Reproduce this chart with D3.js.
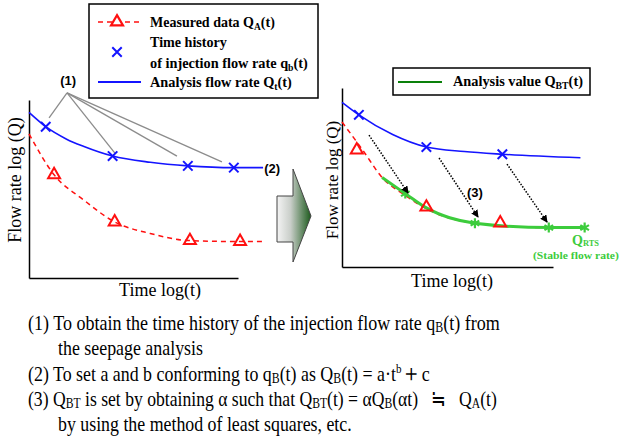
<!DOCTYPE html>
<html>
<head>
<meta charset="utf-8">
<script src="https://cdn.jsdelivr.net/npm/d3@7"></script>
<style>
  html, body { margin: 0; padding: 0; background: #fff; }
  svg { display: block; }
  .serif { font-family: "Liberation Serif", "Times New Roman", serif; white-space: pre; }
  .sans { font-family: "Liberation Sans", Arial, sans-serif; }
</style>
</head>
<body>
<svg id="fig" width="620" height="445"></svg>
<script>
// ---- Left panel: seepage-analysis history vs. measurements (log-log, arbitrary units 0..100) ----
const leftBlueX   = [0, 8, 18, 26, 40, 58, 76, 98, 112];
const leftBlueY   = [93, 85, 78, 74, 68.5, 65, 63, 62, 62];
const leftXMarkX  = [8, 40, 76, 98];
const leftXMarkY  = [85, 68.5, 63, 62];
const leftRedX    = [0, 12, 26, 41, 58, 77, 101, 112];
const leftRedY    = [81, 58, 44, 31.5, 25, 21, 20.5, 20.5];
const leftTriX    = [12, 41, 77, 101];
const leftTriY    = [58, 31.5, 21, 20.5];
const calloutFrom = [18.2, 104];
const calloutToX  = [9.6, 41.1, 70.8, 92.3];
const calloutToY  = [90, 70.2, 68.5, 65.2];

// ---- Right panel: fitted curve Q_BT(t) ----
const rightBlueX  = [0, 8, 24, 40, 58, 76, 113];
const rightBlueY  = [92, 85, 74, 67, 64.5, 63, 61];
const rightXMarkX = [8, 40, 76];
const rightXMarkY = [85, 67, 63];
const rightRedX   = [0, 10, 19, 30, 40, 63, 98, 113];
const rightRedY   = [81, 65, 50, 40, 32.5, 24.5, 22, 22];
const rightTriX   = [7, 40, 75];
const rightTriY   = [65.4, 33.5, 24.6];
const greenX      = [19, 30, 40, 51, 63, 98, 115];
const greenY      = [50, 41, 33, 27.5, 24.5, 22, 22];
const starX       = [30, 63, 98, 115];
const starY       = [41, 24.5, 22, 22];
const shiftFromX  = [12.8, 46, 78.2];
const shiftFromY  = [73.7, 60.9, 57.5];
const shiftToX    = [31.3, 64.5, 97.2];
const shiftToY    = [41.3, 27.9, 25.1];

// ---- Text ----
const axisTitleX = "Time log(t)";
const axisTitleY = "Flow rate log (Q)";
const notes = [
  { x: 28, y: 330, w: 472, parts: [["(1) To obtain the time history of the injection flow rate q"], ["B", "sub"], ["(t) from"]] },
  { x: 58, y: 355, w: 145, parts: [["the seepage analysis"]] },
  { x: 28, y: 381, w: 402, parts: [["(2) To set a and b conforming to q"], ["B", "sub"], ["(t) as Q"], ["B", "sub"], ["(t) = a·t"], ["b", "sup"], ["＋", "big"], ["c"]] },
  { x: 28, y: 406, w: 470, parts: [["(3) Q"], ["BT", "sub"], [" is set by obtaining α such that Q"], ["BT", "sub"], ["(t) = αQ"], ["B", "sub"], ["(αt)   ≒   Q"], ["A", "sub"], ["(t)"]] },
  { x: 58, y: 431, w: 294, parts: [["by using the method of least squares, etc."]] }
];

const BLUE = "#1414ff", RED = "#ff1010", GREEN = "#3ccc3c", DKGREEN = "#0a800a";
const SERIF = "'Liberation Serif', 'Times New Roman', serif";
const svg = d3.select("#fig");

// rich text with sub/superscripts, stretched to a given width
function richText(parent, x, y, parts, opt) {
  const g = parent.append("g");
  const t = g.append("text").attr("class", opt.cls || "serif")
    .attr("font-family", opt.cls === "sans" ? null : SERIF)
    .attr("font-size", opt.size).attr("font-weight", opt.weight || "normal")
    .attr("fill", opt.fill || "#000");
  let shift = 0;
  parts.forEach(([s, kind]) => {
    let target = 0, fs = null;
    if (kind === "sub") { target = opt.size * (opt.subShift ?? 0.2); fs = opt.size * (opt.subScale || 0.68); }
    else if (kind === "sup") { target = -opt.size * 0.38; fs = opt.size * 0.62; }
    else if (kind === "big") { fs = opt.size * 1.15; }
    const ts = t.append("tspan").text(s).attr("dy", target - shift);
    if (fs) ts.attr("font-size", fs);
    shift = target;
  });
  let sx = 1;
  if (opt.width) {
    const w = t.node().getComputedTextLength();
    sx = opt.width / w;
  }
  g.attr("transform", `translate(${x},${y}) scale(${sx},1)`);
  return g;
}

function sym(type, size) { return d3.symbol().type(type).size(size)(); }

// ---- panel scales ----
function panel(xr, yr) {
  const x = d3.scaleLinear().domain([0, 100]).range(xr);
  const y = d3.scaleLinear().domain([0, 100]).range(yr);
  return { x, y };
}
const L = panel([29, 238], [278, 100]);
const R = panel([342, 553], [267, 88]);

function axes(P, titleX, titleY, xt, yt, ysz) {
  svg.append("g").attr("transform", `translate(0,${P.y(0)})`)
    .call(d3.axisBottom(P.x).ticks(0).tickSizeOuter(0))
    .call(g => g.select(".domain").attr("stroke", "#000").attr("stroke-width", 1.5));
  svg.append("g").attr("transform", `translate(${P.x(0)},0)`)
    .call(d3.axisLeft(P.y).ticks(0).tickSizeOuter(0))
    .call(g => g.select(".domain").attr("stroke", "#000").attr("stroke-width", 1.5));
  svg.append("text").attr("font-family", SERIF).attr("font-size", 18)
    .attr("text-anchor", "middle").attr("x", xt[0]).attr("y", xt[1]).text(titleX);
  svg.append("text").attr("font-family", SERIF).attr("font-size", ysz)
    .attr("text-anchor", "middle")
    .attr("transform", `translate(${yt[0]},${yt[1]}) rotate(-90)`).text(titleY);
}

function curve(P, xs, ys, stroke, width, dash) {
  const line = d3.line().x(d => P.x(d[0])).y(d => P.y(d[1])).curve(d3.curveMonotoneX);
  svg.append("path").datum(d3.zip(xs, ys)).attr("d", line)
    .attr("fill", "none").attr("stroke", stroke).attr("stroke-width", width)
    .attr("stroke-dasharray", dash || null);
}

function markers(P, xs, ys, type, size, stroke, width) {
  svg.append("g").selectAll("path").data(d3.zip(xs, ys)).join("path")
    .attr("transform", d => `translate(${P.x(d[0])},${P.y(d[1])})`)
    .attr("d", sym(type, size))
    .attr("fill", "none").attr("stroke", stroke).attr("stroke-width", width);
}

// ---- left panel ----
axes(L, axisTitleX, axisTitleY, [160, 296], [21, 180], 18);
// callout lines for (1)
svg.append("g").selectAll("line").data(d3.zip(calloutToX, calloutToY)).join("line")
  .attr("x1", L.x(calloutFrom[0])).attr("y1", L.y(calloutFrom[1]))
  .attr("x2", d => L.x(d[0])).attr("y2", d => L.y(d[1]))
  .attr("stroke", "#8c8c8c").attr("stroke-width", 1.3);
svg.append("text").attr("class", "sans").attr("font-size", 13).attr("font-weight", "bold")
  .attr("text-anchor", "middle").attr("x", L.x(18.7)).attr("y", L.y(calloutFrom[1]) - 8).text("(1)");

curve(L, leftRedX, leftRedY, RED, 1.5, "5,4");
curve(L, leftBlueX, leftBlueY, BLUE, 1.6);
markers(L, leftTriX, leftTriY, d3.symbolTriangle, 62, RED, 2);
markers(L, leftXMarkX, leftXMarkY, d3.symbolTimes, 60, BLUE, 2);
svg.append("text").attr("class", "sans").attr("font-size", 13).attr("font-weight", "bold")
  .attr("x", L.x(112.5)).attr("y", L.y(62) + 5).text("(2)");

// ---- left legend ----
svg.append("rect").attr("x", 89).attr("y", 4).attr("width", 229).attr("height", 94)
  .attr("fill", "#fff").attr("stroke", "#000").attr("stroke-width", 1.5);
svg.append("line").attr("x1", 98).attr("x2", 141).attr("y1", 22).attr("y2", 22)
  .attr("stroke", RED).attr("stroke-width", 1.5).attr("stroke-dasharray", "5,4");
svg.append("path").attr("transform", "translate(117,22)").attr("d", sym(d3.symbolTriangle, 62))
  .attr("fill", "#fff").attr("stroke", RED).attr("stroke-width", 2.2);
svg.append("path").attr("transform", "translate(117,52)").attr("d", sym(d3.symbolTimes, 60))
  .attr("fill", "none").attr("stroke", BLUE).attr("stroke-width", 2);
svg.append("line").attr("x1", 98).attr("x2", 141).attr("y1", 82).attr("y2", 82)
  .attr("stroke", BLUE).attr("stroke-width", 2);
const legOpt = { size: 15, weight: "bold" };
richText(svg, 150, 27, [["Measured data Q"], ["A", "sub"], ["(t)"]], { ...legOpt, width: 125 });
richText(svg, 150, 47, [["Time history"]], { ...legOpt, width: 77 });
richText(svg, 150, 68, [["of injection flow rate q"], ["b", "sub"], ["(t)"]], { ...legOpt, width: 158 });
richText(svg, 150, 87, [["Analysis flow rate Q"], ["t", "sub"], ["(t)"]], { ...legOpt, width: 142 });

// ---- transition arrow ----
const defs = svg.append("defs");
const grad = defs.append("linearGradient").attr("id", "arrowGrad")
  .attr("x1", "0%").attr("x2", "100%").attr("y1", "0%").attr("y2", "0%");
grad.append("stop").attr("offset", "0%").attr("stop-color", "#f4f4f4");
grad.append("stop").attr("offset", "40%").attr("stop-color", "#c9cec9");
grad.append("stop").attr("offset", "100%").attr("stop-color", "#1c5a1c");
svg.append("polygon")
  .attr("points", "277,196 293,196 293,169 311,216 293,262 293,242 277,242")
  .attr("fill", "url(#arrowGrad)").attr("stroke", "#444").attr("stroke-width", 1);

// ---- right panel ----
axes(R, axisTitleX, axisTitleY, [452, 287], [338, 180], 17);
curve(R, rightRedX, rightRedY, RED, 1.5, "5,4");
curve(R, rightBlueX, rightBlueY, BLUE, 1.6);
curve(R, greenX, greenY, GREEN, 3);
markers(R, rightTriX, rightTriY, d3.symbolTriangle, 62, RED, 2);
markers(R, rightXMarkX, rightXMarkY, d3.symbolTimes, 60, BLUE, 2);
markers(R, starX, starY, d3.symbolAsterisk, 70, GREEN, 2.2);

// dotted shift arrows
defs.append("marker").attr("id", "head").attr("viewBox", "0 0 10 10")
  .attr("refX", 9).attr("refY", 5).attr("markerWidth", 5).attr("markerHeight", 5)
  .attr("orient", "auto")
  .append("path").attr("d", "M0,0 L10,5 L0,10 Z").attr("fill", "#000");
svg.append("g").selectAll("line").data(d3.range(shiftFromX.length)).join("line")
  .attr("x1", i => R.x(shiftFromX[i])).attr("y1", i => R.y(shiftFromY[i]))
  .attr("x2", i => R.x(shiftToX[i])).attr("y2", i => R.y(shiftToY[i]))
  .attr("stroke", "#000").attr("stroke-width", 1.5).attr("stroke-dasharray", "1.5,1.5")
  .attr("marker-end", "url(#head)");
svg.append("text").attr("class", "sans").attr("font-size", 13).attr("font-weight", "bold")
  .attr("text-anchor", "middle").attr("x", R.x(63)).attr("y", R.y(42) + 5).text("(3)");

// stable flow rate annotation
richText(svg, 572, 245, [["Q"], ["RTS", "sub"]], { size: 14, weight: "bold", fill: GREEN, subShift: 0.06, subScale: 0.6 });
richText(svg, 533, 259, [["(Stable flow rate)"]], { size: 11, weight: "bold", fill: GREEN, width: 86 });

// right legend
svg.append("rect").attr("x", 393).attr("y", 68).attr("width", 197).attr("height", 27)
  .attr("fill", "#fff").attr("stroke", "#000").attr("stroke-width", 1.5);
svg.append("line").attr("x1", 398).attr("x2", 442).attr("y1", 82).attr("y2", 82)
  .attr("stroke", DKGREEN).attr("stroke-width", 2.2);
richText(svg, 453, 86, [["Analysis value Q"], ["BT", "sub"], ["(t)"]], { ...legOpt, width: 130 });

// ---- explanatory notes ----
notes.forEach(n => richText(svg, n.x, n.y, n.parts, { size: 21, width: n.w, subShift: 0.08, subScale: 0.66 }));
</script>
</body>
</html>
